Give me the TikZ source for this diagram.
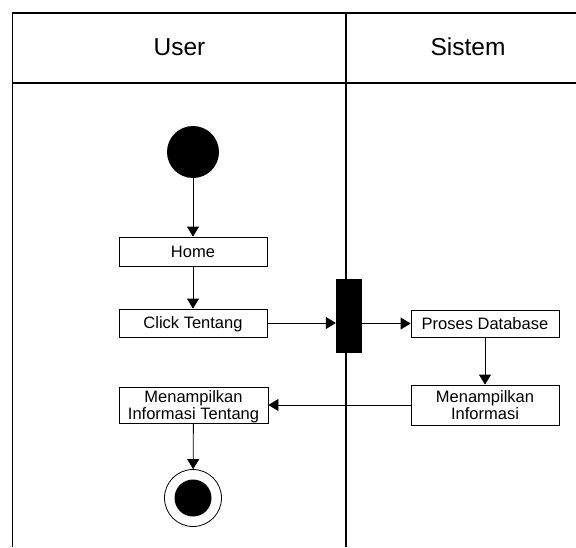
\documentclass[tikz,border=0pt]{standalone}
\usepackage{fontspec}
\setmainfont{Liberation Sans}
\usetikzlibrary{arrows.meta}
\begin{document}
\begin{tikzpicture}[x=1pt,y=-1pt,
  lane/.style={line width=1.1pt},
  act/.style={draw,line width=0.8pt,inner sep=0pt,align=center,text depth=0pt,
    font=\fontsize{16.5}{17.4}\selectfont,minimum width=148pt},
  conn/.style={line width=0.8pt,-{Triangle[length=10pt,width=12pt]}},
  hdr/.style={font=\fontsize{24.5}{28}\selectfont,anchor=base}]
\useasboundingbox (0,0) rectangle (576,547);
% swimlane frame
\draw[lane] (576,13) -- (12.5,13) -- (12.5,547);
\draw[lane] (12.5,83) -- (576,83);
\draw[lane] (346,13) -- (346,547);
\node[hdr] (huser) at (179.5,55) {User};
\node[hdr] (hsis) at (468,55) {Sistem};
% nodes
\node[circle,fill=black,minimum size=52pt,inner sep=0pt] (start) at (193,152) {};
\node[act,minimum height=29pt] (home) at (193,251.5) {Home};
\node[act,minimum height=28pt] (click) at (193,323) {Click Tentang};
\node[draw,fill=black,minimum width=25pt,minimum height=73pt,inner sep=0pt] (bar) at (348.5,315.5) {};
\node[act,minimum height=27pt] (proses) at (485,323.5) {Proses Database};
\node[act,minimum height=40pt] (meninf) at (485,405) {Menampilkan\\Informasi};
\node[act,minimum height=36pt,minimum width=149pt] (menT) at (193.5,405) {Menampilkan\\Informasi Tentang};
\node[circle,draw,line width=0.8pt,minimum size=57pt,inner sep=0pt] (end) at (193,498) {};
\node[circle,fill=black,minimum size=37pt,inner sep=0pt] (endin) at (193,498) {};
% connectors
\draw[conn] (start) -- (home);
\draw[conn] (home) -- (click);
\draw[conn] (click.east) -- (click.east -| bar.west);
\draw[conn] (bar.east |- proses.west) -- (proses.west);
\draw[conn] (proses) -- (meninf);
\draw[conn] (meninf.west) -- (menT.east);
\draw[conn] (menT) -- (end);
\end{tikzpicture}
\end{document}
